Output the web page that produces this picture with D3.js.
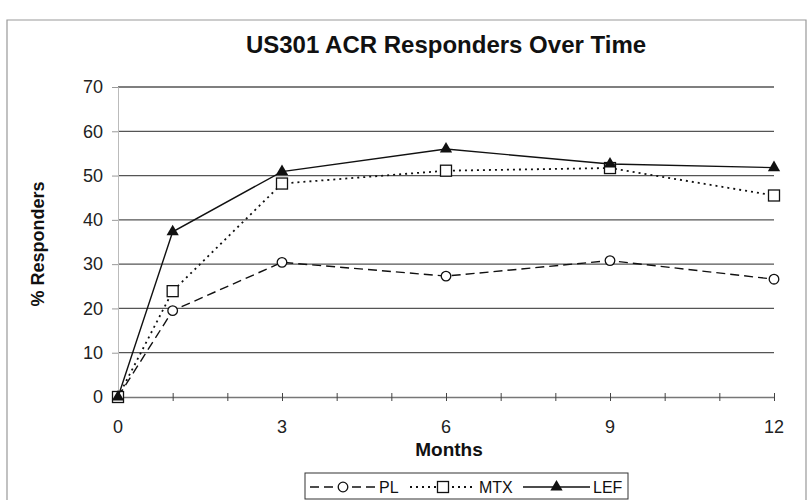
<!DOCTYPE html>
<html><head><meta charset="utf-8">
<script src="https://cdn.jsdelivr.net/npm/d3@7"></script>
<style>body{margin:0;background:#fff}svg{display:block;font-family:"Liberation Sans",Arial,sans-serif}</style>
</head><body><svg id="c" width="809" height="500"></svg>
<script>
const months = [0, 1, 3, 6, 9, 12];
const PL  = [0, 19.5, 30.4, 27.3, 30.8, 26.6];
const MTX = [0, 23.9, 48.2, 51.1, 51.7, 45.5];
const LEF = [0, 37.3, 50.9, 56.0, 52.6, 51.8];
const yTicks = [0, 10, 20, 30, 40, 50, 60, 70];
const xTicks = [0, 3, 6, 9, 12];
const seriesNames = ["PL", "MTX", "LEF"];

const svg = d3.select("#c");
const x = d3.scaleLinear().domain([0, 12]).range([118, 774]);
const y = d3.scaleLinear().domain([0, 70]).range([397, 87]);

// frame
svg.append("path").attr("d","M7,500 L7,20 L806,20 L806,500").attr("fill","none").attr("stroke","#999").attr("stroke-width",1.2);

// title
svg.append("text").attr("x",446).attr("y",53).attr("text-anchor","middle")
  .attr("font-size",24).attr("font-weight","bold").attr("fill","#111").text("US301 ACR Responders Over Time");

// gridlines
svg.append("g").selectAll("line").data(yTicks.filter(d=>d>0)).join("line")
  .attr("x1",x(0)).attr("x2",x(12)).attr("y1",d=>y(d)).attr("y2",d=>y(d))
  .attr("stroke","#555").attr("stroke-width",1.3);

// y axis
const ya = svg.append("g").attr("transform",`translate(${x(0)},0)`)
  .call(d3.axisLeft(y).tickValues(yTicks).tickSize(6).tickPadding(9));
ya.select(".domain").attr("stroke","#bbb");
ya.selectAll(".tick line").attr("stroke","#999");
ya.selectAll("text").attr("font-size",18).attr("fill","#222").attr("font-family","Liberation Sans, Arial, sans-serif");

// x axis
const xa = svg.append("g").attr("transform",`translate(0,${y(0)})`)
  .call(d3.axisBottom(x).tickValues(d3.range(0,13)).tickSize(0).tickFormat(""));
xa.select(".domain").attr("stroke","#777").attr("stroke-width",1.3);
xa.selectAll(".tick line").attr("y1",-4).attr("y2",4).attr("stroke","#444");
svg.append("g").selectAll("text").data(xTicks).join("text")
  .attr("x",d=>x(d)).attr("y",433).attr("text-anchor","middle").attr("font-size",18).attr("fill","#222").text(d=>d);

// axis titles
svg.append("text").attr("x",x(6)+3).attr("y",456).attr("text-anchor","middle").attr("font-size",19).attr("font-weight","bold").attr("fill","#111").text("Months");
svg.append("text").attr("transform","translate(44,244) rotate(-90)").attr("text-anchor","middle").attr("font-size",18).attr("font-weight","bold").attr("fill","#111").text("% Responders");

const styles = {
  PL: {dash:"9,5", data:PL},
  MTX:{dash:"2,4", data:MTX},
  LEF:{dash:null, data:LEF}
};
const line = d3.line().x((d,i)=>x(months[i])).y(d=>y(d));

function marker(g, name, cx, cy){
  if(name==="PL") g.append("circle").attr("cx",cx).attr("cy",cy).attr("r",4.8).attr("fill","#fff").attr("stroke","#111").attr("stroke-width",1.3);
  else if(name==="MTX") g.append("rect").attr("x",cx-5.5).attr("y",cy-5.5).attr("width",11).attr("height",11).attr("fill","#fff").attr("stroke","#111").attr("stroke-width",1.3);
  else g.append("path").attr("d",d3.symbol(d3.symbolTriangle,65)()).attr("transform",`translate(${cx},${cy})`).attr("fill","#111");
}

seriesNames.forEach(n=>{
  const s = styles[n];
  svg.append("path").datum(s.data).attr("d",line).attr("fill","none").attr("stroke","#111")
    .attr("stroke-width",n==="MTX"?1.8:1.4).attr("stroke-dasharray",s.dash);
  const g = svg.append("g");
  s.data.forEach((v,i)=>marker(g,n,x(months[i]),y(v)));
});

// legend
const lg = svg.append("g");
lg.append("rect").attr("x",305).attr("y",473).attr("width",323).attr("height",26).attr("fill","#fff").attr("stroke","#333").attr("stroke-width",1);
const items = [{n:"PL",x0:310,w:66},{n:"MTX",x0:410,w:66},{n:"LEF",x0:523,w:67}];
items.forEach(it=>{
  const s = styles[it.n];
  lg.append("line").attr("x1",it.x0).attr("x2",it.x0+it.w).attr("y1",487).attr("y2",487).attr("stroke","#111")
    .attr("stroke-width",it.n==="MTX"?1.8:1.4).attr("stroke-dasharray",s.dash);
  marker(lg,it.n,it.x0+it.w/2,487);
  lg.append("text").attr("x",it.x0+it.w+3).attr("y",493).attr("font-size",16).attr("fill","#111").text(it.n);
});
</script></body></html>
